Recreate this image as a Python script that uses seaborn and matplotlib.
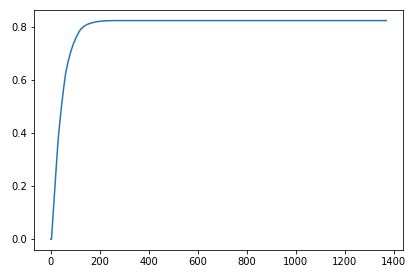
import matplotlib
matplotlib.use("Agg")
import matplotlib.pyplot as plt
import seaborn as sns
import pandas as pd

# values
steps = [0, 3, 10, 20, 30, 37, 43.5, 52, 61, 70, 79, 84, 92, 102, 112, 122, 135, 150, 170, 190, 220, 250, 300, 400, 600, 800, 1000, 1200, 1370]
values = [0.0, 0.0, 0.10, 0.24, 0.375, 0.442, 0.50, 0.567, 0.628, 0.668, 0.700, 0.715, 0.737, 0.759, 0.778, 0.793, 0.804, 0.812, 0.818, 0.822, 0.825, 0.826, 0.826, 0.826, 0.826, 0.826, 0.826, 0.826, 0.826]

df = pd.DataFrame({"step": steps, "value": values})

fig = plt.figure(figsize=(418 / 72, 280 / 72), dpi=72)
ax = fig.add_axes([34 / 418, 1 - 250 / 280, (403 - 34) / 418, (250 - 10) / 280])
sns.lineplot(data=df, x="step", y="value", ax=ax, color="#1f77b4", linewidth=1.5)
ax.set_xlabel("")
ax.set_ylabel("")
ax.set_xticks([0, 200, 400, 600, 800, 1000, 1200, 1400])
ax.set_yticks([0.0, 0.2, 0.4, 0.6, 0.8])
ax.set_xlim(-68.5, 1438.5)
ax.set_ylim(-0.041, 0.866)
fig.savefig("out.png", dpi=72)
